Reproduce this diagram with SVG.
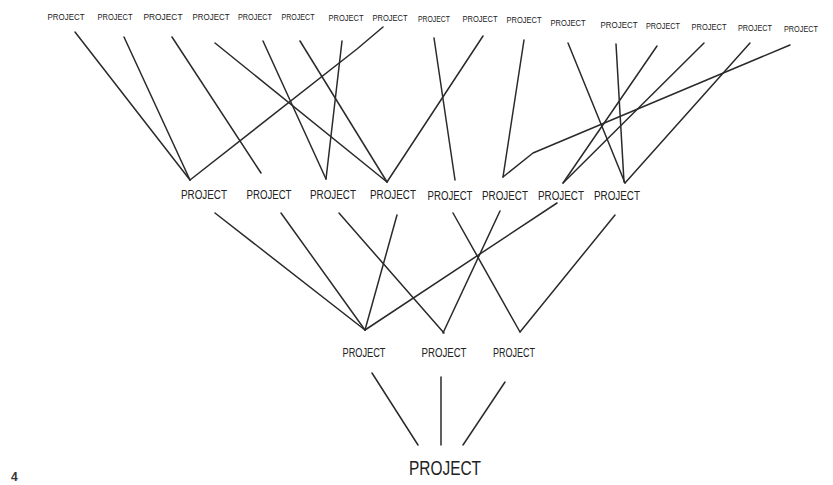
<svg xmlns="http://www.w3.org/2000/svg" width="833" height="485" viewBox="0 0 833 485">
<style>
text{font-family:"Liberation Sans","DejaVu Sans",sans-serif;fill:#222;text-anchor:middle}
.t{font-size:9.2px}
.m{font-size:12px}
.b{font-size:12px}
.f{font-size:20px}
.pg{font-size:12px;fill:#333;text-anchor:start;font-weight:bold}
#connectors line,#connectors polyline{stroke:#2a2a2a;stroke-width:1.5;fill:none;stroke-linecap:round;stroke-linejoin:round}
</style>
<rect width="833" height="485" fill="#fff"/>
<g id="connectors">
<line x1="75" y1="32" x2="190" y2="180"/>
<line x1="124" y1="37" x2="190" y2="180"/>
<line x1="172" y1="37" x2="261" y2="173"/>
<line x1="215" y1="43" x2="387" y2="182"/>
<line x1="263" y1="41" x2="326" y2="179"/>
<line x1="300" y1="41" x2="387" y2="182"/>
<polyline points="190,180 357,49 383,27"/>
<line x1="342" y1="41" x2="326" y2="179"/>
<line x1="483" y1="36" x2="387" y2="182"/>
<line x1="434" y1="38" x2="455" y2="180"/>
<line x1="524" y1="40" x2="503" y2="177"/>
<polyline points="503,177 533,153 790,45"/>
<line x1="568" y1="43" x2="625" y2="183"/>
<line x1="616" y1="44" x2="624" y2="182"/>
<line x1="657" y1="46" x2="563" y2="183"/>
<line x1="704" y1="43" x2="563" y2="183"/>
<line x1="750" y1="43" x2="625" y2="183"/>
<line x1="215" y1="213" x2="365" y2="330"/>
<line x1="281" y1="213" x2="365" y2="330"/>
<line x1="397" y1="215" x2="365" y2="330"/>
<line x1="365" y1="330" x2="557" y2="203"/>
<line x1="339" y1="213" x2="444" y2="333"/>
<line x1="500" y1="211" x2="443" y2="333"/>
<line x1="453" y1="213" x2="520" y2="332"/>
<line x1="615" y1="215" x2="520" y2="332"/>
<line x1="372" y1="373" x2="418" y2="445"/>
<line x1="441" y1="377" x2="441" y2="445"/>
<line x1="505" y1="382" x2="463" y2="445"/>
</g>
<g id="top-1"><text class="t" x="66" y="20" textLength="37" lengthAdjust="spacingAndGlyphs">PROJECT</text></g>
<g id="top-2"><text class="t" x="115" y="20" textLength="35" lengthAdjust="spacingAndGlyphs">PROJECT</text></g>
<g id="top-3"><text class="t" x="163" y="20" textLength="39" lengthAdjust="spacingAndGlyphs">PROJECT</text></g>
<g id="top-4"><text class="t" x="211" y="20" textLength="37" lengthAdjust="spacingAndGlyphs">PROJECT</text></g>
<g id="top-5"><text class="t" x="255" y="20" textLength="34" lengthAdjust="spacingAndGlyphs">PROJECT</text></g>
<g id="top-6"><text class="t" x="298" y="20" textLength="33" lengthAdjust="spacingAndGlyphs">PROJECT</text></g>
<g id="top-7"><text class="t" x="346" y="21" textLength="35" lengthAdjust="spacingAndGlyphs">PROJECT</text></g>
<g id="top-8"><text class="t" x="390" y="21" textLength="35" lengthAdjust="spacingAndGlyphs">PROJECT</text></g>
<g id="top-9"><text class="t" x="434" y="22" textLength="32" lengthAdjust="spacingAndGlyphs">PROJECT</text></g>
<g id="top-10"><text class="t" x="480" y="22" textLength="35" lengthAdjust="spacingAndGlyphs">PROJECT</text></g>
<g id="top-11"><text class="t" x="524" y="23" textLength="35" lengthAdjust="spacingAndGlyphs">PROJECT</text></g>
<g id="top-12"><text class="t" x="568" y="26" textLength="35" lengthAdjust="spacingAndGlyphs">PROJECT</text></g>
<g id="top-13"><text class="t" x="619" y="28" textLength="37" lengthAdjust="spacingAndGlyphs">PROJECT</text></g>
<g id="top-14"><text class="t" x="663" y="29" textLength="34" lengthAdjust="spacingAndGlyphs">PROJECT</text></g>
<g id="top-15"><text class="t" x="709" y="30" textLength="35" lengthAdjust="spacingAndGlyphs">PROJECT</text></g>
<g id="top-16"><text class="t" x="755" y="31" textLength="34" lengthAdjust="spacingAndGlyphs">PROJECT</text></g>
<g id="top-17"><text class="t" x="801" y="32" textLength="34" lengthAdjust="spacingAndGlyphs">PROJECT</text></g>
<g id="mid-1"><text class="m" x="204" y="199" textLength="46" lengthAdjust="spacingAndGlyphs">PROJECT</text></g>
<g id="mid-2"><text class="m" x="269" y="199" textLength="45" lengthAdjust="spacingAndGlyphs">PROJECT</text></g>
<g id="mid-3"><text class="m" x="333" y="199" textLength="46" lengthAdjust="spacingAndGlyphs">PROJECT</text></g>
<g id="mid-4"><text class="m" x="393" y="199" textLength="46" lengthAdjust="spacingAndGlyphs">PROJECT</text></g>
<g id="mid-5"><text class="m" x="450" y="200" textLength="45" lengthAdjust="spacingAndGlyphs">PROJECT</text></g>
<g id="mid-6"><text class="m" x="505" y="200" textLength="46" lengthAdjust="spacingAndGlyphs">PROJECT</text></g>
<g id="mid-7"><text class="m" x="561" y="200" textLength="46" lengthAdjust="spacingAndGlyphs">PROJECT</text></g>
<g id="mid-8"><text class="m" x="617" y="200" textLength="46" lengthAdjust="spacingAndGlyphs">PROJECT</text></g>
<g id="low-1"><text class="b" x="364" y="357" textLength="43" lengthAdjust="spacingAndGlyphs">PROJECT</text></g>
<g id="low-2"><text class="b" x="444" y="357" textLength="45" lengthAdjust="spacingAndGlyphs">PROJECT</text></g>
<g id="low-3"><text class="b" x="514" y="357" textLength="42" lengthAdjust="spacingAndGlyphs">PROJECT</text></g>
<g id="root"><text class="f" x="445" y="475" textLength="72" lengthAdjust="spacingAndGlyphs">PROJECT</text></g>
<text class="pg" x="11" y="481">4</text>
</svg>
